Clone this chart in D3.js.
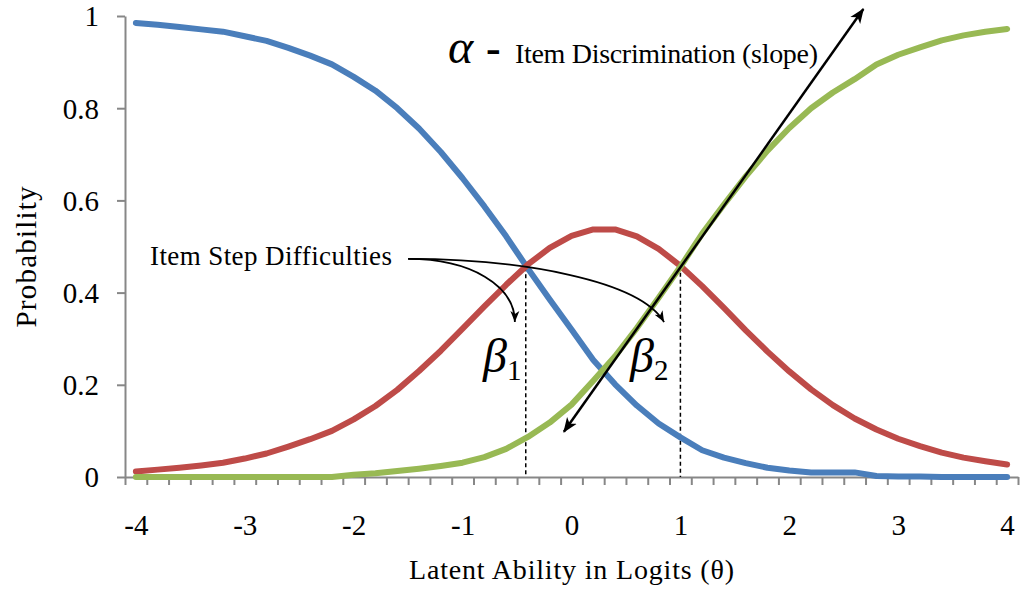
<!DOCTYPE html>
<html>
<head>
<meta charset="utf-8">
<script src="https://cdn.jsdelivr.net/npm/d3@7"></script>
<style>
  body { margin: 0; background: #fff; }
</style>
</head>
<body>
<div id="graph"></div>
<script>
// theta categories, one every 0.2 logits
var theta = [-4, -3.8, -3.6, -3.4, -3.2, -3, -2.8, -2.6, -2.4, -2.2, -2, -1.8, -1.6, -1.4, -1.2, -1, -0.8, -0.6, -0.4, -0.2,
  0, 0.2, 0.4, 0.6, 0.8, 1, 1.2, 1.4, 1.6, 1.8, 2, 2.2, 2.4, 2.6, 2.8, 3, 3.2, 3.4, 3.6, 3.8, 4]

// category probability curves
var score0 = [0.985, 0.981, 0.976, 0.971, 0.966, 0.956, 0.946, 0.931, 0.914, 0.895, 0.868, 0.838, 0.800, 0.756, 0.705, 0.648, 0.587, 0.522, 0.452, 0.385,
  0.320, 0.254, 0.201, 0.155, 0.116, 0.086, 0.058, 0.042, 0.030, 0.020, 0.014, 0.010, 0.010, 0.010, 0.002, 0.001, 0.001, 0, 0, 0, 0]
var score1 = [0.012, 0.016, 0.020, 0.025, 0.031, 0.040, 0.051, 0.066, 0.082, 0.100, 0.125, 0.154, 0.189, 0.230, 0.274, 0.322, 0.370, 0.417, 0.461, 0.497,
  0.523, 0.537, 0.537, 0.522, 0.495, 0.458, 0.414, 0.367, 0.318, 0.272, 0.229, 0.190, 0.156, 0.127, 0.103, 0.083, 0.067, 0.053, 0.042, 0.034, 0.027]
var score2 = [0, 0, 0, 0, 0, 0, 0, 0, 0, 0, 0.005, 0.008, 0.013, 0.018, 0.024, 0.031, 0.043, 0.061, 0.087, 0.118,
  0.157, 0.209, 0.262, 0.323, 0.389, 0.456, 0.528, 0.591, 0.652, 0.708, 0.757, 0.800, 0.834, 0.863, 0.895, 0.916, 0.932, 0.947, 0.958, 0.966, 0.972]

var seriesColors = ['#4A7EBB', '#BE4B48', '#98B954']
var yTicks = [0, 0.2, 0.4, 0.6, 0.8, 1]
var xLabels = [-4, -3, -2, -1, 0, 1, 2, 3, 4]

// step difficulties and where they cross
var steps = [-0.42, 1.0]
var stepProb = [0.455, 0.458]

var width = 1020, height = 604
var serif = 'Liberation Serif'

var svg = d3.select('#graph').append('svg')
  .attr('width', width).attr('height', height)

// category axis: ticks sit between categories
var half = 0.1
var x = d3.scaleLinear().domain([theta[0] - half, theta[theta.length - 1] + half]).range([125, 1018])
var y = d3.scaleLinear().domain([0, 1]).range([477, 16])
var pt = (t, p) => [x(t), y(p)]

var axisColor = '#878787'

svg.append('g')
  .attr('transform', `translate(${x.range()[0]},0)`)
  .call(d3.axisLeft(y).tickValues(yTicks).tickSize(8).tickSizeOuter(0).tickPadding(18).tickFormat(d => String(d)))
  .selectAll('text').attr('font-family', serif).attr('font-size', 29).attr('dy', '0.34em').attr('fill', '#000')

var boundaries = theta.map(d => d - half).concat([theta[theta.length - 1] + half])
svg.append('g')
  .attr('transform', `translate(0,${y(0)})`)
  .call(d3.axisBottom(x).tickValues(boundaries).tickSize(8).tickSizeOuter(0).tickFormat(''))

svg.append('g')
  .attr('transform', `translate(0,${y(0)})`)
  .call(d3.axisBottom(x).tickValues(xLabels).tickSize(0).tickPadding(37).tickFormat(d => String(d)))
  .call(g => g.select('.domain').remove())
  .selectAll('text').attr('font-family', serif).attr('font-size', 29).attr('fill', '#000')

svg.selectAll('.domain, .tick line').attr('stroke', axisColor).attr('stroke-width', 2)

// axis titles
svg.append('text')
  .attr('transform', `translate(36,${257}) rotate(-90)`)
  .attr('text-anchor', 'middle')
  .attr('font-family', serif).attr('font-size', 29)
  .attr('textLength', 141).attr('lengthAdjust', 'spacing')
  .text('Probability')

svg.append('text')
  .attr('x', x(0)).attr('y', 579)
  .attr('text-anchor', 'middle')
  .attr('font-family', serif).attr('font-size', 28)
  .attr('textLength', 325).attr('lengthAdjust', 'spacing')
  .text('Latent Ability in Logits (θ)')

// dashed drop lines at the step difficulties
svg.selectAll('line.step').data(steps).join('line')
  .attr('class', 'step')
  .attr('x1', d => x(d)).attr('x2', d => x(d))
  .attr('y1', (d, i) => y(stepProb[i])).attr('y2', y(0))
  .attr('stroke', '#000').attr('stroke-width', 1.5).attr('stroke-dasharray', '4,3')

// curves
var line = d3.line().x((d, i) => x(theta[i])).y(d => y(d))
svg.selectAll('path.curve').data([score0, score1, score2]).join('path')
  .attr('class', 'curve')
  .attr('d', line)
  .attr('fill', 'none')
  .attr('stroke', (d, i) => seriesColors[i])
  .attr('stroke-width', 6)
  .attr('stroke-linecap', 'round')
  .attr('stroke-linejoin', 'round')

// arrow heads
var defs = svg.append('defs')
defs.append('marker')
  .attr('id', 'head').attr('markerUnits', 'userSpaceOnUse')
  .attr('markerWidth', 16).attr('markerHeight', 14)
  .attr('viewBox', '0 -7 16 14').attr('refX', 14).attr('refY', 0)
  .attr('orient', 'auto-start-reverse')
  .append('path').attr('d', 'M0,-6L15,0L0,6L4,0Z').attr('fill', '#000')
defs.append('marker')
  .attr('id', 'headSmall').attr('markerUnits', 'userSpaceOnUse')
  .attr('markerWidth', 12).attr('markerHeight', 10)
  .attr('viewBox', '0 -5 12 10').attr('refX', 11).attr('refY', 0)
  .attr('orient', 'auto')
  .append('path').attr('d', 'M0,-4.5L11,0L0,4.5L3,0Z').attr('fill', '#000')

// slope arrow
var a0 = pt(-0.07, 0.098), a1 = pt(2.68, 1.015)
svg.append('line')
  .attr('x1', a0[0]).attr('y1', a0[1]).attr('x2', a1[0]).attr('y2', a1[1])
  .attr('stroke', '#000').attr('stroke-width', 2.5)
  .attr('marker-start', 'url(#head)').attr('marker-end', 'url(#head)')

// curved pointers from the label to the betas
var s = pt(-1.5, 0.473)
var curves = [
  [pt(-0.93, 0.473), pt(-0.52, 0.416), pt(-0.52, 0.336)],
  [pt(-0.47, 0.473), pt(0.63, 0.427), pt(0.85, 0.336)]
]
svg.selectAll('path.pointer').data(curves).join('path')
  .attr('class', 'pointer')
  .attr('d', d => `M${s}C${d[0]} ${d[1]} ${d[2]}`)
  .attr('fill', 'none').attr('stroke', '#000').attr('stroke-width', 1.8)
  .attr('marker-end', 'url(#headSmall)')

// labels
svg.append('text')
  .attr('x', 150).attr('y', 265)
  .attr('font-family', serif).attr('font-size', 27)
  .attr('textLength', 242).attr('lengthAdjust', 'spacing')
  .text('Item Step Difficulties')

var alpha = svg.append('text').attr('x', 448).attr('y', 63).attr('font-family', serif)
alpha.append('tspan').attr('font-size', 48).attr('font-style', 'italic').text('α')
alpha.append('tspan').attr('x', 486).attr('font-size', 44).attr('font-weight', 'bold').text('-')

svg.append('text')
  .attr('x', 515).attr('y', 63)
  .attr('font-family', serif).attr('font-size', 28)
  .attr('textLength', 303).attr('lengthAdjust', 'spacing')
  .text('Item Discrimination (slope)')

var betaX = [483, 630]
betaX.forEach((bx, i) => {
  var t = svg.append('text').attr('x', bx).attr('y', 372).attr('font-family', serif)
  t.append('tspan').attr('font-size', 48).attr('font-style', 'italic').text('β')
  t.append('tspan').attr('x', bx + 24).attr('y', 380).attr('font-size', 29).text(i + 1)
})
</script>
</body>
</html>
